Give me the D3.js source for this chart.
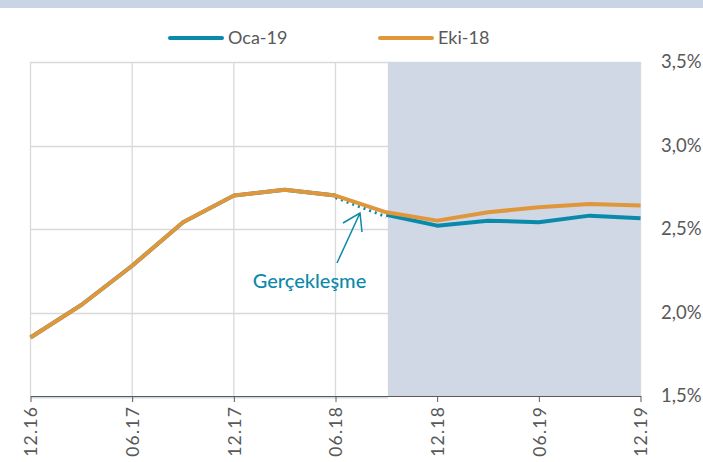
<!DOCTYPE html>
<html><head><meta charset="utf-8">
<script src="https://cdn.jsdelivr.net/npm/d3@7"></script>
<style>body{margin:0;background:#fff}svg{display:block}text{font-family:Lato,"Open Sans",sans-serif}</style>
</head><body><svg id="c" width="703" height="462"></svg>
<script>
const quarters = ["12.16","03.17","06.17","09.17","12.17","03.18","06.18","09.18","12.18","03.19","06.19","09.19","12.19"];
const tickLabels = ["12.16","06.17","12.17","06.18","12.18","06.19","12.19"];
const eki18 = [1.85,2.045,2.28,2.54,2.70,2.735,2.70,2.60,2.55,2.60,2.63,2.65,2.64];
const oca19 = [1.85,2.045,2.28,2.54,2.70,2.735,2.70,2.585,2.52,2.55,2.54,2.58,2.565];
const yTicks = [1.5,2.0,2.5,3.0,3.5];
const forecastStart = "09.18", forecastEnd = "12.19";

const svg = d3.select("#c");
const x = d3.scalePoint().domain(quarters).range([30.5,640.5]);
const y = d3.scaleLinear().domain([1.5,3.5]).range([396,62]);

svg.append("rect").attr("x",0).attr("y",0).attr("width",703).attr("height",8).attr("fill","#c9d5e5");

// grid
svg.append("g").selectAll("line").data(yTicks.slice(1)).join("line")
  .attr("x1",x("12.16")).attr("x2",x("12.19")).attr("y1",d=>Math.round(y(d))+0.5).attr("y2",d=>Math.round(y(d))+0.5)
  .attr("stroke","#d9d9d9").attr("stroke-width",1.3);
svg.append("g").selectAll("line").data(tickLabels).join("line")
  .attr("x1",d=>x(d)).attr("x2",d=>x(d)).attr("y1",y(3.5)).attr("y2",y(1.5))
  .attr("stroke","#d9d9d9").attr("stroke-width",1.3);

// forecast shading
svg.append("rect").attr("x",x(forecastStart)+1.5).attr("y",y(3.5)).attr("width",x(forecastEnd)-x(forecastStart)-1.5).attr("height",y(1.5)-y(3.5)).attr("fill","#d0d8e6");
svg.append("rect").attr("x",x("12.16")).attr("y",y(1.5)).attr("width",x(forecastStart)-x("12.16")+1.5).attr("height",2.5).attr("fill","#d0d8e6");

// x axis
const xAxis = d3.axisBottom(x).tickValues(tickLabels).tickSize(6).tickSizeOuter(0);
const gx = svg.append("g").attr("transform",`translate(0,${y(1.5)})`).call(xAxis);
gx.select(".domain").attr("stroke","#595959").attr("stroke-width",1);
gx.selectAll(".tick line").attr("stroke","#595959");
gx.selectAll(".tick text").attr("transform","rotate(-90)").attr("text-anchor","end")
  .attr("x",-10).attr("y",0).attr("dy","0.36em").attr("fill","#595959").attr("font-size",17.5)
  .attr("letter-spacing",1.2).attr("font-family","Lato,'Open Sans',sans-serif");

// y axis right
const yAxis = d3.axisRight(y).tickValues(yTicks).tickSize(0).tickFormat(d=>d3.format(".1f")(d).replace(".",",")+"%");
const gy = svg.append("g").attr("transform","translate(661,0)").call(yAxis);
gy.select(".domain").remove();
gy.selectAll(".tick text").attr("x",0).attr("fill","#595959").attr("font-size",18.5).attr("font-family","Lato,'Open Sans',sans-serif");

// lines
const line = d3.line().x((d,i)=>x(quarters[i])).y(d=>y(d));
const teal = "#0a8aaa", orange = "#e0963a";
const iStart = quarters.indexOf("06.18"), iF = quarters.indexOf(forecastStart);
svg.append("path").datum(oca19.slice(0,iStart+1)).attr("d",line).attr("fill","none").attr("stroke",teal).attr("stroke-width",4);
const line2 = d3.line().x((d,i)=>x(quarters[i+iStart])).y(d=>y(d));
svg.append("path").datum(oca19.slice(iStart,iF+1)).attr("d",line2).attr("transform","translate(0,2)").attr("fill","none").attr("stroke",teal).attr("stroke-width",3).attr("stroke-dasharray","2,4");
const line3 = d3.line().x((d,i)=>x(quarters[i+iF])).y(d=>y(d));
svg.append("path").datum(oca19.slice(iF)).attr("d",line3).attr("fill","none").attr("stroke",teal).attr("stroke-width",4).attr("stroke-linejoin","round");
svg.append("path").datum(eki18).attr("d",line).attr("fill","none").attr("stroke",orange).attr("stroke-width",4).attr("stroke-linejoin","round");

// annotation
svg.append("text").attr("x",309.5).attr("y",288).attr("text-anchor","middle").attr("fill","#0a8aaa").attr("font-size",20).attr("font-weight",500).text("Gerçekleşme");
svg.append("path").attr("d","M337,263 L360,213 M343,223 L360,213 L362,232").attr("fill","none").attr("stroke",teal).attr("stroke-width",1.5);

// legend
const legend = [{name:"Oca-19",c:teal,x:170},{name:"Eki-18",c:orange,x:380}];
const lg = svg.append("g").selectAll("g").data(legend).join("g").attr("transform",d=>`translate(${d.x},38)`);
lg.append("line").attr("x1",0).attr("x2",52).attr("stroke",d=>d.c).attr("stroke-width",4).attr("stroke-linecap","round");
lg.append("text").attr("x",58).attr("dy","0.36em").attr("fill","#595959").attr("font-size",18).text(d=>d.name);
</script></body></html>
